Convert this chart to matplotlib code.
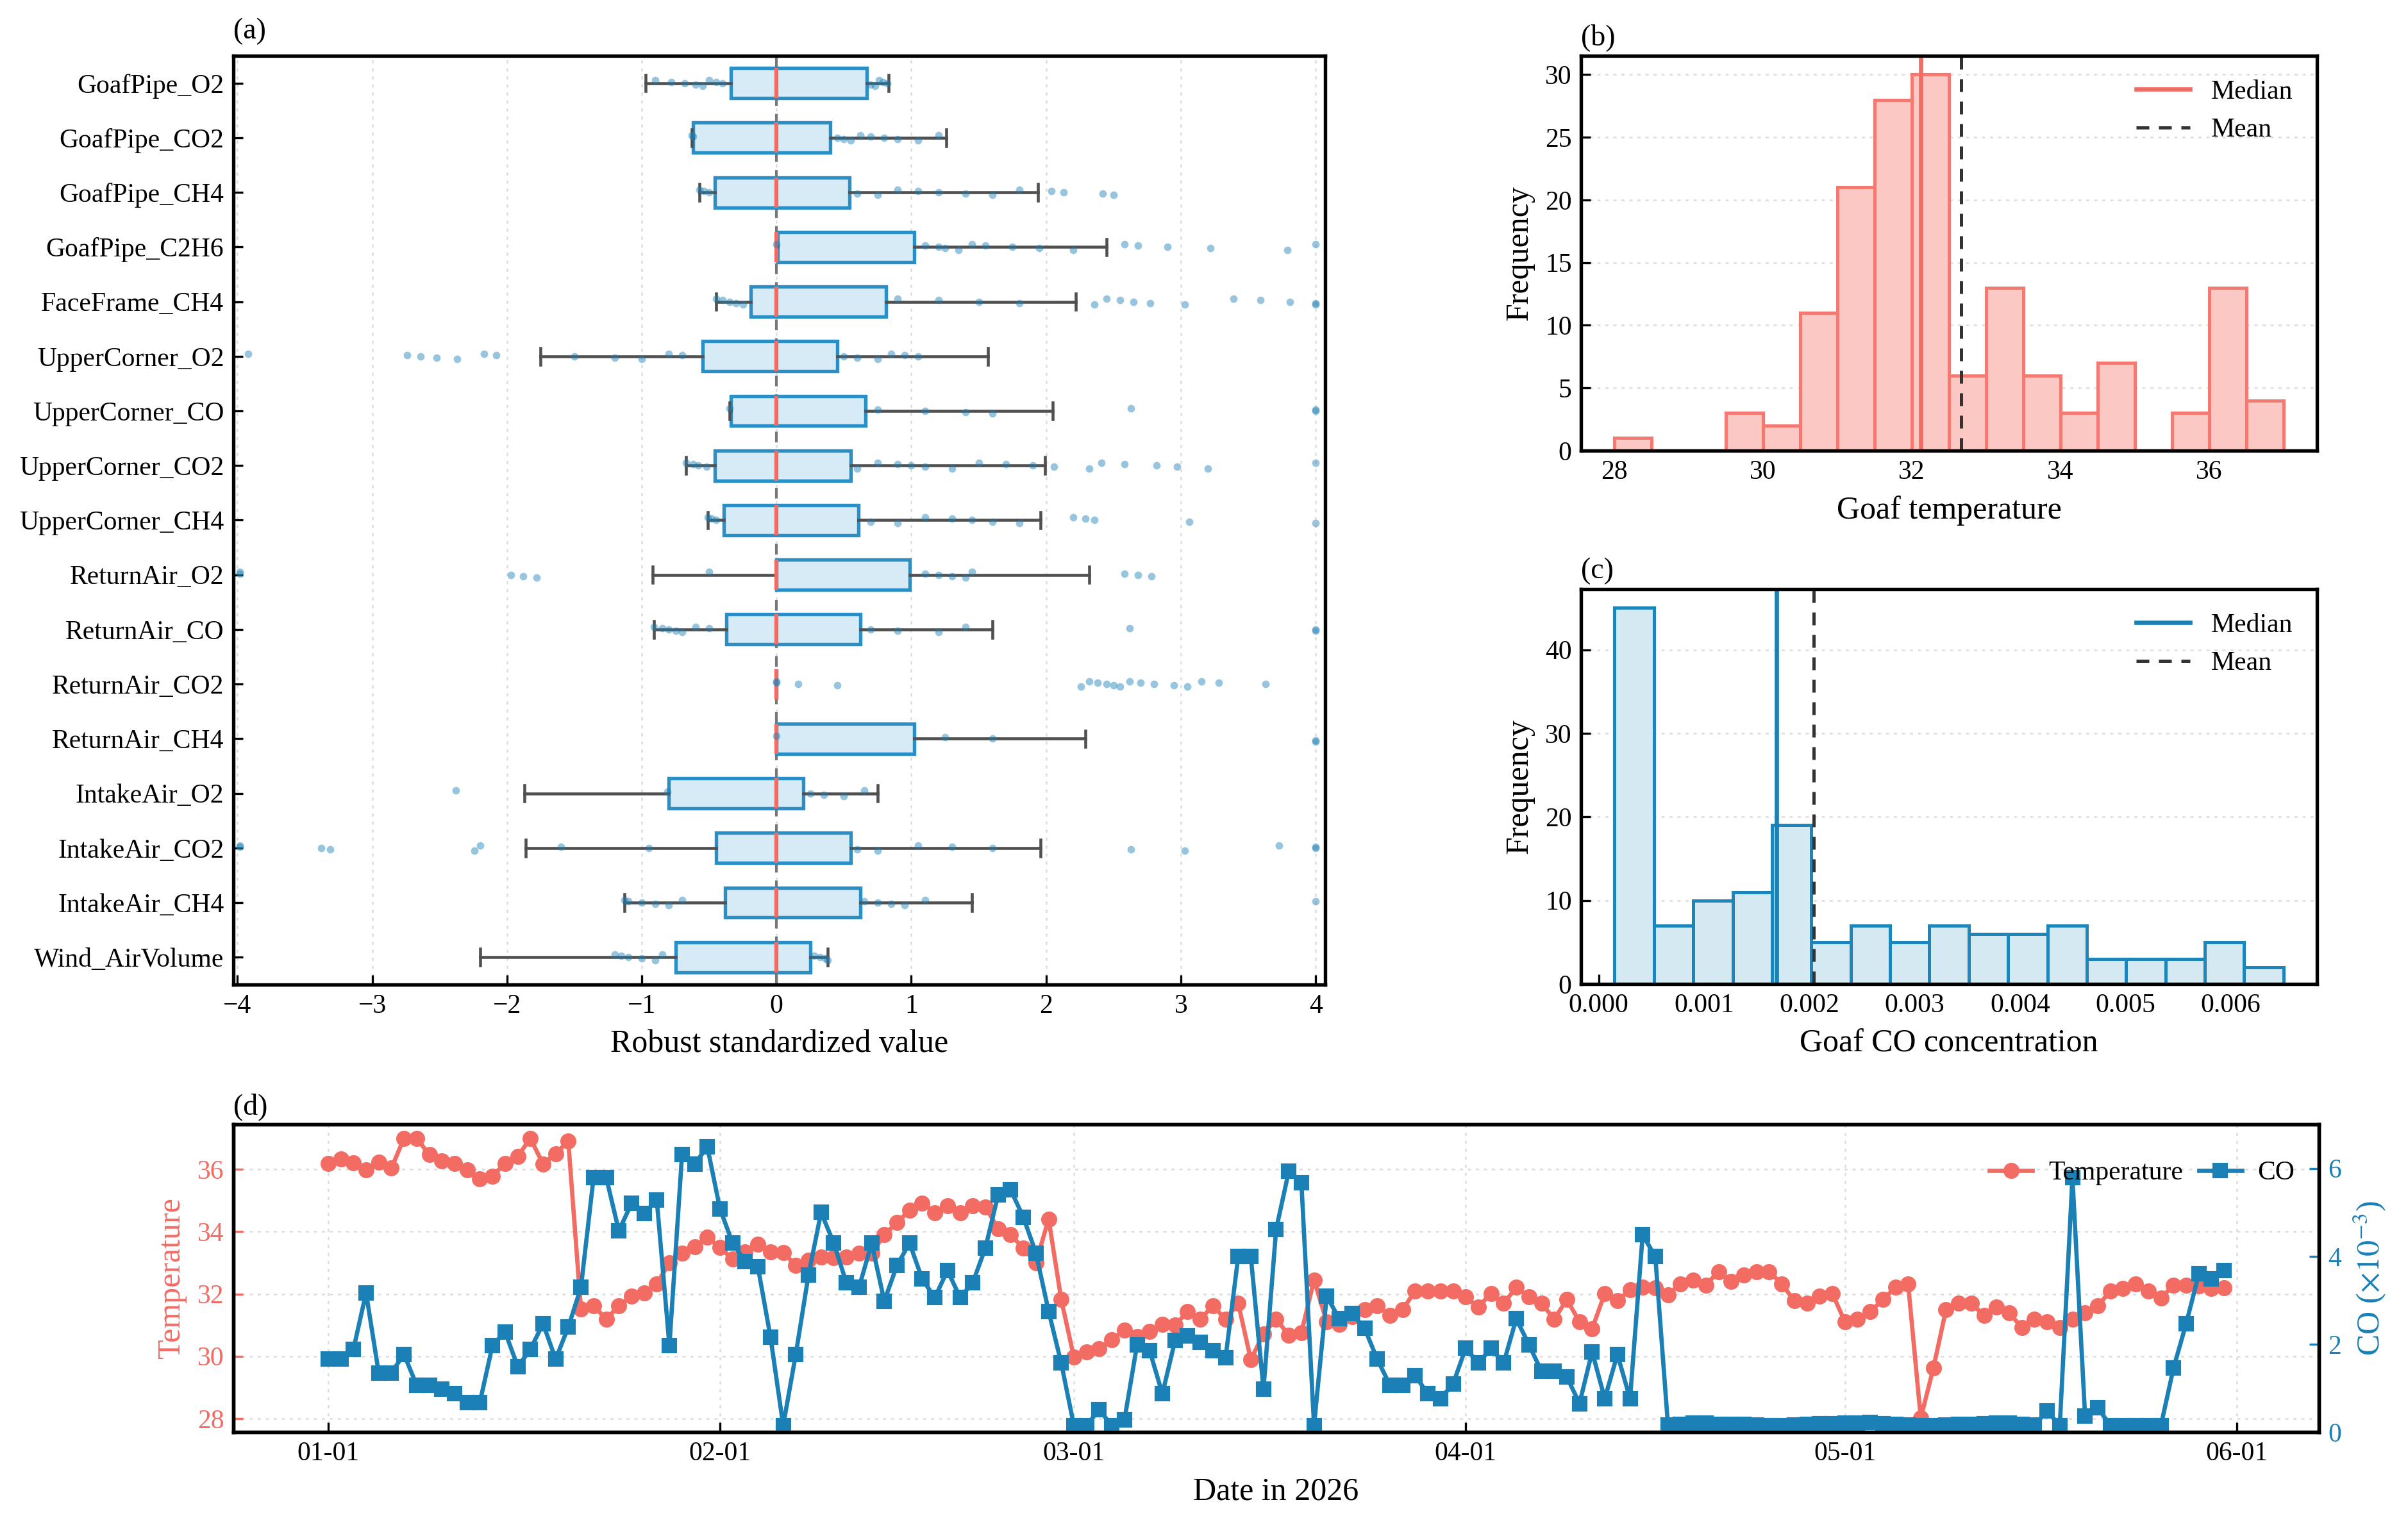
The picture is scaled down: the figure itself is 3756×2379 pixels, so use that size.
import numpy as np
import pandas as pd
import matplotlib
matplotlib.use("Agg")
import matplotlib.pyplot as plt
import matplotlib.dates as mdates

plt.rcParams["font.family"] = ["Liberation Serif", "DejaVu Serif"]
plt.rcParams["mathtext.fontset"] = "stix"
plt.rcParams["font.size"] = 10
plt.rcParams["axes.linewidth"] = 1.3
plt.rcParams["xtick.direction"] = "in"
plt.rcParams["ytick.direction"] = "in"

RED = "#f26c64"
BLUE = "#1a80b6"
BOX_EDGE = "#2a8fc4"
BOX_FACE = "#d6ebf5"

# ---- (a) robust standardized boxplots ----
features = ["GoafPipe_O2", "GoafPipe_CO2", "GoafPipe_CH4", "GoafPipe_C2H6",
            "FaceFrame_CH4", "UpperCorner_O2", "UpperCorner_CO", "UpperCorner_CO2",
            "UpperCorner_CH4", "ReturnAir_O2", "ReturnAir_CO", "ReturnAir_CO2",
            "ReturnAir_CH4", "IntakeAir_O2", "IntakeAir_CO2", "IntakeAir_CH4",
            "Wind_AirVolume"]
box_q1 = [-0.34, -0.62, -0.46, 0.01, -0.19, -0.55, -0.34, -0.46, -0.39,
          0.0, -0.37, 0.0, 0.0, -0.80, -0.45, -0.38, -0.75]
box_q3 = [0.67, 0.40, 0.54, 1.02, 0.81, 0.45, 0.66, 0.55, 0.61,
          0.99, 0.62, 0.0, 1.02, 0.20, 0.55, 0.62, 0.25]
whisk_lo = [-0.97, -0.63, -0.57, 0.0, -0.45, -1.75, -0.35, -0.67, -0.51,
            -0.92, -0.91, 0.0, 0.0, -1.87, -1.86, -1.13, -2.20]
whisk_hi = [0.83, 1.26, 1.94, 2.45, 2.22, 1.57, 2.05, 1.99, 1.96,
            2.32, 1.60, 0.0, 2.29, 0.75, 1.96, 1.45, 0.38]
outer_points = [
    [-0.9, -0.78, -0.68, -0.6, -0.55, -0.5, -0.45, -0.4, 0.7, 0.73, 0.76, 0.79, 0.82],
    [-0.63, -0.62, 0.45, 0.5, 0.55, 0.62, 0.7, 0.8, 0.9, 1.05, 1.2],
    [-0.57, -0.54, -0.5, 0.6, 0.75, 0.9, 1.05, 1.2, 1.4, 1.6, 1.8, 2.04, 2.13, 2.42, 2.5],
    [0.0, 1.1, 1.2, 1.25, 1.35, 1.45, 1.55, 1.75, 1.95, 2.2, 2.58, 2.68, 2.9, 3.22, 3.79, 4.0],
    [-0.45, -0.4, -0.35, -0.3, -0.25, 0.9, 1.2, 1.5, 1.8, 2.36, 2.45, 2.55, 2.65, 2.77,
     3.03, 3.39, 3.59, 3.81, 4.0, 4.0],
    [-3.92, -2.74, -2.64, -2.52, -2.37, -2.17, -2.08, -1.5, -1.2, -1.0, -0.8, -0.7,
     0.5, 0.6, 0.75, 0.85, 0.95, 1.05],
    [-0.35, 0.75, 1.1, 1.4, 1.6, 2.63, 4.0, 4.0],
    [-0.67, -0.62, -0.58, -0.52, 0.6, 0.75, 0.9, 1.0, 1.1, 1.3, 1.5, 1.7, 1.9, 2.06,
     2.32, 2.41, 2.58, 2.82, 2.97, 3.2, 4.0],
    [-0.51, -0.48, -0.45, 0.7, 0.9, 1.1, 1.3, 1.45, 1.6, 1.8, 2.2, 2.29, 2.36, 3.06, 4.0],
    [-3.98, -3.98, -1.97, -1.88, -1.78, -0.5, 1.1, 1.2, 1.3, 1.4, 1.45, 2.58, 2.68, 2.78],
    [-0.91, -0.85, -0.8, -0.75, -0.7, -0.6, -0.5, 0.7, 0.9, 1.2, 1.4, 2.62, 4.0, 4.0],
    [0.0, 0.0, 0.16, 0.45, 2.26, 2.32, 2.38, 2.45, 2.5, 2.55, 2.62, 2.7, 2.8, 2.95,
     3.05, 3.15, 3.28, 3.63],
    [0.0, 1.25, 1.6, 4.0, 4.0],
    [-2.38, -0.81, 0.25, 0.35, 0.5, 0.65],
    [-3.98, -3.98, -3.38, -3.31, -2.24, -2.2, -1.6, -0.95, 0.6, 0.75, 1.05, 1.3, 1.6,
     2.63, 3.03, 3.73, 4.0, 4.0],
    [-1.13, -1.1, -1.0, -0.9, -0.8, -0.7, 0.65, 0.75, 0.85, 0.95, 1.1, 4.0],
    [-1.2, -1.15, -1.1, -1.0, -0.9, -0.85, 0.28, 0.32, 0.36, 0.38],
]

# ---- (b) goaf temperature histogram ----
temp_bin_lo, temp_bin_hi, temp_nbins = 28.0, 37.0, 18
temp_counts = [1, 0, 0, 3, 2, 11, 21, 28, 30, 6, 13, 6, 3, 7, 0, 3, 13, 4]
temp_median, temp_mean = 32.12, 32.66

# ---- (c) goaf CO histogram ----
co_bin_lo, co_bin_hi, co_nbins = 0.00015, 0.0065, 17
co_counts = [45, 7, 10, 11, 19, 5, 7, 5, 7, 6, 6, 7, 3, 3, 3, 5, 2]
co_median, co_mean = 0.00169, 0.00204

# ---- (d) daily series 2026-01-01 .. 2026-05-31 ----
start_date = "2026-01-01"
temperature = [
    36.20, 36.34, 36.22, 35.98, 36.24, 36.04, 37.00, 37.00, 36.48, 36.28,
    36.20, 35.98, 35.69, 35.79, 36.20, 36.42, 37.00, 36.18, 36.51, 36.91,
    31.52, 31.62, 31.19, 31.62, 31.92, 32.03, 32.33, 33.00, 33.31, 33.51,
    33.82, 33.49, 33.12, 33.35, 33.60, 33.35, 33.33, 32.92, 33.08, 33.18,
    33.16, 33.19, 33.31, 33.31, 33.90, 34.29, 34.69, 34.92, 34.61, 34.84,
    34.61, 34.84, 34.80, 34.10, 33.90, 33.47, 33.00, 34.41, 31.82, 29.97,
    30.13, 30.25, 30.52, 30.84, 30.64, 30.80, 31.03, 31.00, 31.43, 31.19,
    31.62, 31.19, 31.70, 29.89, 30.72, 31.19, 30.68, 30.76, 32.45, 31.11,
    31.03, 31.27, 31.50, 31.62, 31.31, 31.50, 32.09, 32.09, 32.09, 32.09,
    31.90, 31.58, 32.02, 31.70, 32.21, 31.90, 31.70, 31.19, 31.82, 31.11,
    30.88, 32.02, 31.78, 32.13, 32.21, 32.19, 31.98, 32.33, 32.45, 32.29,
    32.72, 32.41, 32.60, 32.72, 32.72, 32.33, 31.78, 31.70, 31.94, 32.02,
    31.11, 31.19, 31.43, 31.82, 32.21, 32.33, 28.01, 29.62, 31.50, 31.70,
    31.70, 31.31, 31.58, 31.39, 30.92, 31.19, 31.11, 30.92, 31.19, 31.39,
    31.62, 32.09, 32.17, 32.33, 32.09, 31.86, 32.29, 32.29, 32.25, 32.17,
    32.19,
]
co_e3 = [
    1.66, 1.66, 1.88, 3.17, 1.35, 1.35, 1.77, 1.07, 1.07, 0.98,
    0.87, 0.67, 0.67, 1.97, 2.28, 1.49, 1.88, 2.47, 1.66, 2.39,
    3.29, 5.79, 5.79, 4.58, 5.20, 4.97, 5.28, 1.97, 6.32, 6.10,
    6.49, 5.08, 4.30, 3.88, 3.76, 2.16, 0.15, 1.77, 3.57, 5.00,
    4.30, 3.40, 3.29, 4.30, 2.98, 3.79, 4.30, 3.48, 3.06, 3.68,
    3.06, 3.40, 4.19, 5.39, 5.51, 4.89, 4.07, 2.75, 1.57, 0.15,
    0.15, 0.51, 0.15, 0.28, 1.99, 1.85, 0.87, 2.08, 2.19, 2.05,
    1.85, 1.69, 3.99, 3.99, 0.98, 4.61, 5.93, 5.67, 0.15, 3.09,
    2.58, 2.70, 2.36, 1.66, 1.07, 1.07, 1.29, 0.87, 0.76, 1.10,
    1.91, 1.57, 1.91, 1.57, 2.58, 1.99, 1.38, 1.38, 1.26, 0.65,
    1.83, 0.76, 1.77, 0.76, 4.49, 3.99, 0.16, 0.18, 0.20, 0.20,
    0.18, 0.17, 0.17, 0.16, 0.15, 0.15, 0.16, 0.18, 0.19, 0.19,
    0.20, 0.20, 0.22, 0.19, 0.17, 0.16, 0.15, 0.15, 0.16, 0.17,
    0.18, 0.19, 0.20, 0.20, 0.18, 0.16, 0.48, 0.15, 5.79, 0.37,
    0.56, 0.15, 0.15, 0.15, 0.15, 0.15, 1.46, 2.47, 3.60, 3.48,
    3.68,
]

fig = plt.figure(figsize=(12.52, 7.93), dpi=300)
ax_a = fig.add_axes([0.0969, 0.3544, 0.4534, 0.6090])
ax_b = fig.add_axes([0.6566, 0.7045, 0.3056, 0.2589])
ax_c = fig.add_axes([0.6566, 0.3548, 0.3056, 0.2589])
ax_d = fig.add_axes([0.0969, 0.0609, 0.8661, 0.2018])

# (a)
positions = np.arange(len(features))
stats = []
for i, name in enumerate(features):
    stats.append(dict(label=name, med=0.0, q1=box_q1[i], q3=box_q3[i],
                      whislo=whisk_lo[i], whishi=whisk_hi[i], fliers=[]))
ax_a.axvline(0, color="#777777", lw=1.0, ls=(0, (4, 3)), zorder=1)
ax_a.bxp(stats, positions=positions, orientation="horizontal", widths=0.55,
         patch_artist=True, showfliers=False, capwidths=0.3,
         boxprops=dict(facecolor=BOX_FACE, edgecolor=BOX_EDGE, lw=1.3),
         medianprops=dict(color=RED, lw=1.5),
         whiskerprops=dict(color="#505050", lw=1.1),
         capprops=dict(color="#505050", lw=1.1))
for i, pts in enumerate(outer_points):
    offs = [((k % 5) - 2) * 0.025 for k in range(len(pts))]
    ax_a.scatter(pts, [positions[i] + o for o in offs], s=8, color=BLUE,
                 alpha=0.45, lw=0, zorder=4)
ax_a.set_yticks(positions, features)
ax_a.set_ylim(len(features) - 0.5, -0.5)
ax_a.set_xlim(-4.03, 4.07)
ax_a.set_xticks(range(-4, 5))
ax_a.grid(axis="x", color="#dddddd", lw=0.6, ls=(0, (2, 3)))
ax_a.set_axisbelow(True)
ax_a.set_xlabel("Robust standardized value", fontsize=12)

# (b)
temp_edges = np.linspace(temp_bin_lo, temp_bin_hi, temp_nbins + 1)
ax_b.hist(temp_edges[:-1], bins=temp_edges, weights=temp_counts,
          color="#fcc8c3", edgecolor="#f37a72", lw=1.2)
ax_b.axvline(temp_median, color=RED, lw=1.6, label="Median")
ax_b.axvline(temp_mean, color="#333333", lw=1.2, ls=(0, (4, 3)), label="Mean")
ax_b.set_xticks([28, 30, 32, 34, 36])
ax_b.set_yticks([0, 5, 10, 15, 20, 25, 30])
ax_b.grid(axis="y", color="#dddddd", lw=0.6, ls=(0, (2, 3)))
ax_b.set_axisbelow(True)
ax_b.set_xlabel("Goaf temperature", fontsize=12)
ax_b.set_ylabel("Frequency", fontsize=12)
ax_b.legend(loc="upper right", frameon=False, fontsize=10)

# (c)
co_edges = np.linspace(co_bin_lo, co_bin_hi, co_nbins + 1)
ax_c.hist(co_edges[:-1], bins=co_edges, weights=co_counts,
          color="#d4e9f2", edgecolor="#1c86bb", lw=1.2)
ax_c.axvline(co_median, color=BLUE, lw=1.6, label="Median")
ax_c.axvline(co_mean, color="#333333", lw=1.2, ls=(0, (4, 3)), label="Mean")
co_ticks = [0, 0.001, 0.002, 0.003, 0.004, 0.005, 0.006]
ax_c.set_xticks(co_ticks)
ax_c.set_xticklabels([f"{v:.3f}" for v in co_ticks])
ax_c.set_yticks([0, 10, 20, 30, 40])
ax_c.grid(axis="y", color="#dddddd", lw=0.6, ls=(0, (2, 3)))
ax_c.set_axisbelow(True)
ax_c.set_xlabel("Goaf CO concentration", fontsize=12)
ax_c.set_ylabel("Frequency", fontsize=12)
ax_c.legend(loc="upper right", frameon=False, fontsize=10)

# (d)
dates = pd.date_range(start_date, periods=len(temperature), freq="D")
ax_d.plot(dates, temperature, color=RED, marker="o", ms=5, lw=1.6, label="Temperature")
ax_d2 = ax_d.twinx()
ax_d2.plot(dates, co_e3, color=BLUE, marker="s", ms=4.6, lw=1.6, label="CO")
ax_d.set_yticks([28, 30, 32, 34, 36])
ax_d.tick_params(axis="y", colors=RED)
ax_d2.set_ylim(0, 7.0)
ax_d2.set_yticks([0, 2, 4, 6])
ax_d2.tick_params(axis="y", colors=BLUE)
ax_d.xaxis.set_major_locator(mdates.MonthLocator())
ax_d.xaxis.set_major_formatter(mdates.DateFormatter("%m-%d"))
ax_d.grid(True, color="#dddddd", lw=0.6, ls=(0, (2, 3)))
ax_d.set_axisbelow(True)
ax_d.set_xlabel("Date in 2026", fontsize=12)
ax_d.set_ylabel("Temperature", color=RED, fontsize=12)
ax_d2.set_ylabel(r"CO ($\times10^{-3}$)", color=BLUE, fontsize=12)
for sp in ax_d2.spines.values():
    sp.set_color("black")
h1, l1 = ax_d.get_legend_handles_labels()
h2, l2 = ax_d2.get_legend_handles_labels()
ax_d2.legend(h1 + h2, l1 + l2, loc="upper right", ncol=2, frameon=False,
             fontsize=10, handlelength=1.6, columnspacing=0.6, handletextpad=0.6,
             bbox_to_anchor=(1.0, 0.96))

for ax, tag in [(ax_a, "(a)"), (ax_b, "(b)"), (ax_c, "(c)"), (ax_d, "(d)")]:
    ax.text(0.0, 1.012, tag, transform=ax.transAxes, ha="left", va="bottom", fontsize=11)

fig.savefig("out.png", dpi=300)
